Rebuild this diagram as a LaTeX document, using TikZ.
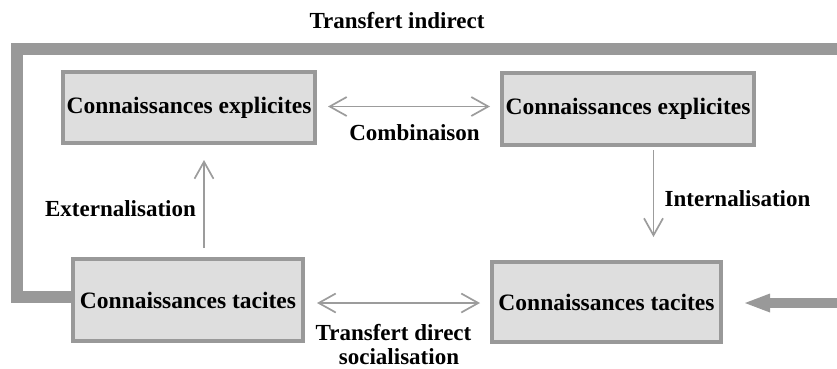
\documentclass[tikz,border=0pt]{standalone}
\usepackage{fontspec}
\setmainfont{Liberation Serif}
\usetikzlibrary{arrows.meta}
\definecolor{boxfill}{HTML}{DEDEDE}
\definecolor{boxline}{HTML}{999999}
\definecolor{arrline}{HTML}{9C9C9C}
\definecolor{thickline}{HTML}{999999}
\tikzset{
  vtip/.tip={Straight Barb[length=17pt,width=19pt,line width=1.7pt]},
  kbox/.style={draw=boxline, line width=4pt, fill=boxfill, inner sep=0pt,
    font=\fontsize{23.5}{27}\selectfont\bfseries},
  lbl/.style={inner sep=0pt, anchor=base, font=\fontsize{23}{24}\selectfont\bfseries},
  thinarrow/.style={draw=arrline, line width=1.7pt, line cap=butt},
  bigpath/.style={draw=thickline, line width=12pt, line join=miter, line cap=butt},
  bigarrow/.style={draw=thickline, fill=thickline, line width=10pt, line cap=butt,
    -{Triangle[length=25pt,width=19pt,line width=0pt]}}
}
\begin{document}
\begin{tikzpicture}[x=1pt,y=-1pt]
\useasboundingbox (0,0) rectangle (837,368);
% boxes
\node[kbox, minimum width=252pt, minimum height=71pt] (ke1) at (189,107.5) {Connaissances explicites};
\node[kbox, minimum width=252pt, minimum height=72pt] (ke2) at (628,109) {Connaissances explicites};
\node[kbox, minimum width=230pt, minimum height=82pt] (kt1) at (188,300) {Connaissances tacites};
\node[kbox, minimum width=229pt, minimum height=80pt] (kt2) at (606.5,302) {Connaissances tacites};
% thick indirect transfer path
\coordinate (tl) at (16.5,49);
\coordinate (tr) at (837,49);
\draw[bigpath] ([yshift=3pt]kt1.west) -| (tl) -- (tr);
% big arrow entering from the right
\coordinate (rin) at (837,303);
\draw[bigarrow, shorten >=22pt] (rin) -- (rin -| kt2.east);
% thin arrows
\draw[thinarrow, vtip-vtip, shorten <=11pt, shorten >=10pt]
  ([yshift=1pt]ke1.east) -- ([yshift=1pt]ke1.east -| ke2.west);
\draw[thinarrow, -vtip, shorten <=9pt, shorten >=15pt]
  ([xshift=16pt]kt1.north) -- ([xshift=16pt]kt1.north |- ke1.south);
\draw[thinarrow, -vtip, shorten <=3pt, shorten >=23pt]
  ([xshift=25.5pt]ke2.south) -- ([xshift=25.5pt]ke2.south |- kt2.north);
\draw[thinarrow, vtip-vtip, shorten <=12pt, shorten >=10pt]
  ([yshift=-3pt]kt1.east) -- ([yshift=-3pt]kt1.east -| kt2.west);
% labels
\node[lbl] (lind) at (397,28) {Transfert indirect};
\node[lbl] (lcomb) at (414.5,140) {Combinaison};
\node[lbl] (lext) at (120.5,216.5) {Externalisation};
\node[lbl] (lint) at (737.5,206.5) {Internalisation};
\node[lbl] (ldir) at (393.5,340) {Transfert direct};
\node[lbl] (lsoc) at (399,364) {socialisation};
\end{tikzpicture}
\end{document}
